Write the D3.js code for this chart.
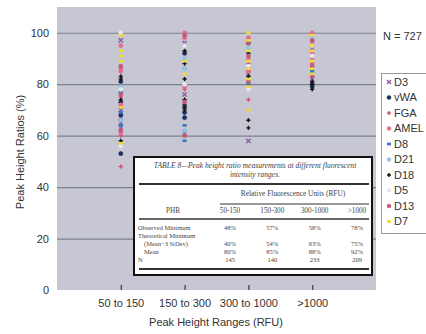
<!DOCTYPE html>
<html>
<head>
<meta charset="utf-8">
<script src="https://cdn.jsdelivr.net/npm/d3@7"></script>
<style>
  body { margin: 0; background: #fff; }
  svg { display: block; }
</style>
</head>
<body>
<svg id="chart" width="426" height="334"></svg>
<script>
// Peak height ratios by RFU range, one column of markers per range.

const ranges = ['50 to 150', '150 to 300', '300 to 1000', '>1000'];
const yTicks = [0, 20, 40, 60, 80, 100];

const loci = ['D3', 'vWA', 'FGA', 'AMEL', 'D8', 'D21', 'D18', 'D5', 'D13', 'D7'];

// ratios (%) per locus, one list per range
const d3Ratios = [[97, 67, 65, 63, 70], [96, 61, 76], [58, 86, 84], [82, 94]];
const vwaRatios = [[53, 68, 73, 81], [67, 71, 69, 92], [96], [79, 80]];
const fgaRatios = [[48, 86, 60, 75], [98, 78, 74], [74, 88], [96, 90]];
const amelRatios = [[95, 85, 72, 61], [100, 98, 79], [98, 90, 85], [100, 92, 88]];
const d8Ratios = [[64, 69, 77], [64, 58, 86], [80], [85]];
const d21Ratios = [[79, 66], [90, 86, 62], [94], [98]];
const d18Ratios = [[82, 74, 58, 83], [93, 88, 82, 74, 70, 72], [66, 63, 92, 83], [78, 80, 81]];
const d5Ratios = [[100, 56, 78], [95, 80], [87, 78], [91, 95]];
const d13Ratios = [[87, 62, 76], [99, 73, 60], [96, 91, 81], [97, 87, 83]];
const d7Ratios = [[99, 93, 91, 89, 71, 57], [84, 89], [100, 97, 93, 89, 86, 82, 79, 70], [99, 95, 93, 89, 86, 84]];

const lociRatios = [d3Ratios, vwaRatios, fgaRatios, amelRatios, d8Ratios,
    d21Ratios, d18Ratios, d5Ratios, d13Ratios, d7Ratios];
const lociColors = ['#8c5aa6', '#1c2c5c', '#d2507a', '#e26c8c', '#3a76c0',
    '#8ec6e2', '#141414', '#e6e6f0', '#c05a7c', '#f2dc2c'];
const lociMarkers = ['x', 'circle', 'plus', 'circle', 'dash',
    'circle', 'plus', 'circle', 'circle', 'dash'];

// table inset
const tableColumns = ['50-150', '150-300', '300-1000', '>1000'];
const observedMin = ['48%', '57%', '58%', '78%'];
const theoreticalMin = ['40%', '54%', '63%', '75%'];
const meanRatio = ['80%', '85%', '88%', '92%'];
const countN = ['145', '140', '233', '209'];

const sans = 'Liberation Sans, Arial, sans-serif';
const serif = 'Liberation Serif, Times New Roman, serif';

const svg = d3.select('#chart');
const plot = { left: 57, right: 376, top: 7, bottom: 290 };

const x = d3.scalePoint()
    .domain(ranges)
    .range([plot.left, plot.right])
    .padding(1);

const y = d3.scaleLinear()
    .domain([0, 110])
    .range([plot.bottom, plot.top]);

svg.append('rect')
    .attr('x', plot.left)
    .attr('y', plot.top)
    .attr('width', plot.right - plot.left)
    .attr('height', plot.bottom - plot.top)
    .attr('fill', '#c6c7d2');

// gridlines + y labels
const yAxis = d3.axisLeft(y)
    .tickValues(yTicks)
    .tickSize(-(plot.right - plot.left))
    .tickPadding(8);

svg.append('g')
    .attr('transform', `translate(${plot.left},0)`)
    .call(yAxis)
    .call(g => g.select('.domain').remove())
    .call(g => g.selectAll('line')
        .attr('stroke', d => (d === 0 ? 'none' : '#7e808d'))
        .attr('stroke-width', 1.2))
    .call(g => g.selectAll('text')
        .attr('font-family', sans)
        .attr('font-size', 11)
        .attr('fill', '#333'));

const xAxis = d3.axisBottom(x)
    .tickSizeInner(-5)
    .tickSizeOuter(0)
    .tickPadding(9);

svg.append('g')
    .attr('transform', `translate(0,${plot.bottom})`)
    .call(xAxis)
    .call(g => g.select('.domain').remove())
    .call(g => g.selectAll('line').attr('stroke', '#555').attr('stroke-width', 1.5))
    .call(g => g.selectAll('text')
        .attr('font-family', sans)
        .attr('font-size', 11)
        .attr('fill', '#333'));

svg.append('text')
    .attr('x', 216)
    .attr('y', 326)
    .attr('text-anchor', 'middle')
    .attr('font-family', sans)
    .attr('font-size', 11)
    .attr('fill', '#333')
    .text('Peak Height Ranges (RFU)');

svg.append('text')
    .attr('transform', 'translate(24,152) rotate(-90)')
    .attr('text-anchor', 'middle')
    .attr('font-family', sans)
    .attr('font-size', 11)
    .attr('fill', '#333')
    .text('Peak Height Ratios (%)');

// marker paths
function markerPath(type, r) {
    if (type === 'circle') return d3.symbol(d3.symbolCircle, Math.PI * r * r)();
    if (type === 'x') return `M${-r},${-r}L${r},${r}M${-r},${r}L${r},${-r}`;
    if (type === 'plus') return `M${-r},0L${r},0M0,${-r}L0,${r}`;
    return `M${-r},0L${r},0`;
}

function drawMarker(sel, type, color, r) {
    sel.append('path')
        .attr('d', markerPath(type, r))
        .attr('fill', type === 'circle' ? color : 'none')
        .attr('stroke', color)
        .attr('stroke-width', type === 'circle' ? 0.5 : (type === 'dash' ? 2.6 : 1.4));
}

const points = [];
loci.forEach((locus, i) => {
    lociRatios[i].forEach((vals, j) => {
        vals.forEach(v => points.push({ locus, i, range: ranges[j], value: v }));
    });
});

svg.append('g')
    .attr('class', 'points')
    .selectAll('g')
    .data(points)
    .join('g')
    .attr('transform', d => `translate(${x(d.range)},${y(d.value)})`)
    .each(function (d) {
        drawMarker(d3.select(this), lociMarkers[d.i], lociColors[d.i], 2.1);
    });

svg.append('text')
    .attr('x', 383)
    .attr('y', 40)
    .attr('font-family', sans)
    .attr('font-size', 11)
    .attr('fill', '#333')
    .text('N = 727');

// legend
const legend = svg.append('g').attr('class', 'legend');
legend.append('rect')
    .attr('x', 381.5)
    .attr('y', 73.5)
    .attr('width', 60)
    .attr('height', 160)
    .attr('fill', '#fff')
    .attr('stroke', '#999');

const legendItems = legend.selectAll('g.item')
    .data(loci)
    .join('g')
    .attr('class', 'item')
    .attr('transform', (d, i) => `translate(389,${82 + i * 15.5})`);

legendItems.each(function (d, i) {
    drawMarker(d3.select(this), lociMarkers[i], lociColors[i], 2);
});

legendItems.append('text')
    .attr('x', 5)
    .attr('dy', '0.35em')
    .attr('font-family', sans)
    .attr('font-size', 11)
    .attr('fill', '#333')
    .text(d => d);

// table inset
const table = svg.append('g').attr('class', 'table');
table.append('rect')
    .attr('x', 134)
    .attr('y', 157)
    .attr('width', 238)
    .attr('height', 118)
    .attr('fill', '#fff')
    .attr('stroke', '#111')
    .attr('stroke-width', 2);

const tcol = d3.scalePoint()
    .domain(tableColumns)
    .range([230, 357]);

function tText(tx, ty, str, anchor, size, italic) {
    table.append('text')
        .attr('x', tx)
        .attr('y', ty)
        .attr('text-anchor', anchor || 'start')
        .attr('font-family', serif)
        .attr('font-size', size || 6.5)
        .attr('font-style', italic ? 'italic' : null)
        .attr('fill', '#444')
        .text(str);
}

function tLine(x1, x2, ty, w) {
    table.append('line')
        .attr('x1', x1).attr('x2', x2)
        .attr('y1', ty).attr('y2', ty)
        .attr('stroke', '#333')
        .attr('stroke-width', w);
}

tText(255, 168, 'TABLE 8\u2014Peak height ratio measurements at different fluorescent', 'middle', 7.6, true);
tText(255, 177, 'intensity ranges.', 'middle', 7.6, true);
tLine(139, 369, 184, 1.8);
tText(293, 196, 'Relative Fluorescence Units (RFU)', 'middle', 7.4);
tLine(220, 369, 204, 1);
tText(173, 213, 'PHR', 'middle', 7.2);
tableColumns.forEach(c => tText(tcol(c), 213, c, 'middle', 7.2));
tLine(139, 369, 219, 1.4);

tText(138, 230, 'Observed Minimum');
tText(138, 238, 'Theoretical Minimum');
tText(144, 246, '(Mean\u22123 StDev)');
tText(144, 254, 'Mean');
tText(138, 262, 'N');

[[observedMin, 230], [theoreticalMin, 246], [meanRatio, 254], [countN, 262]].forEach(([row, ty]) => {
    row.forEach((v, k) => tText(tcol(tableColumns[k]), ty, v, 'middle'));
});

tLine(139, 369, 269, 1.8);
</script>
</body>
</html>
